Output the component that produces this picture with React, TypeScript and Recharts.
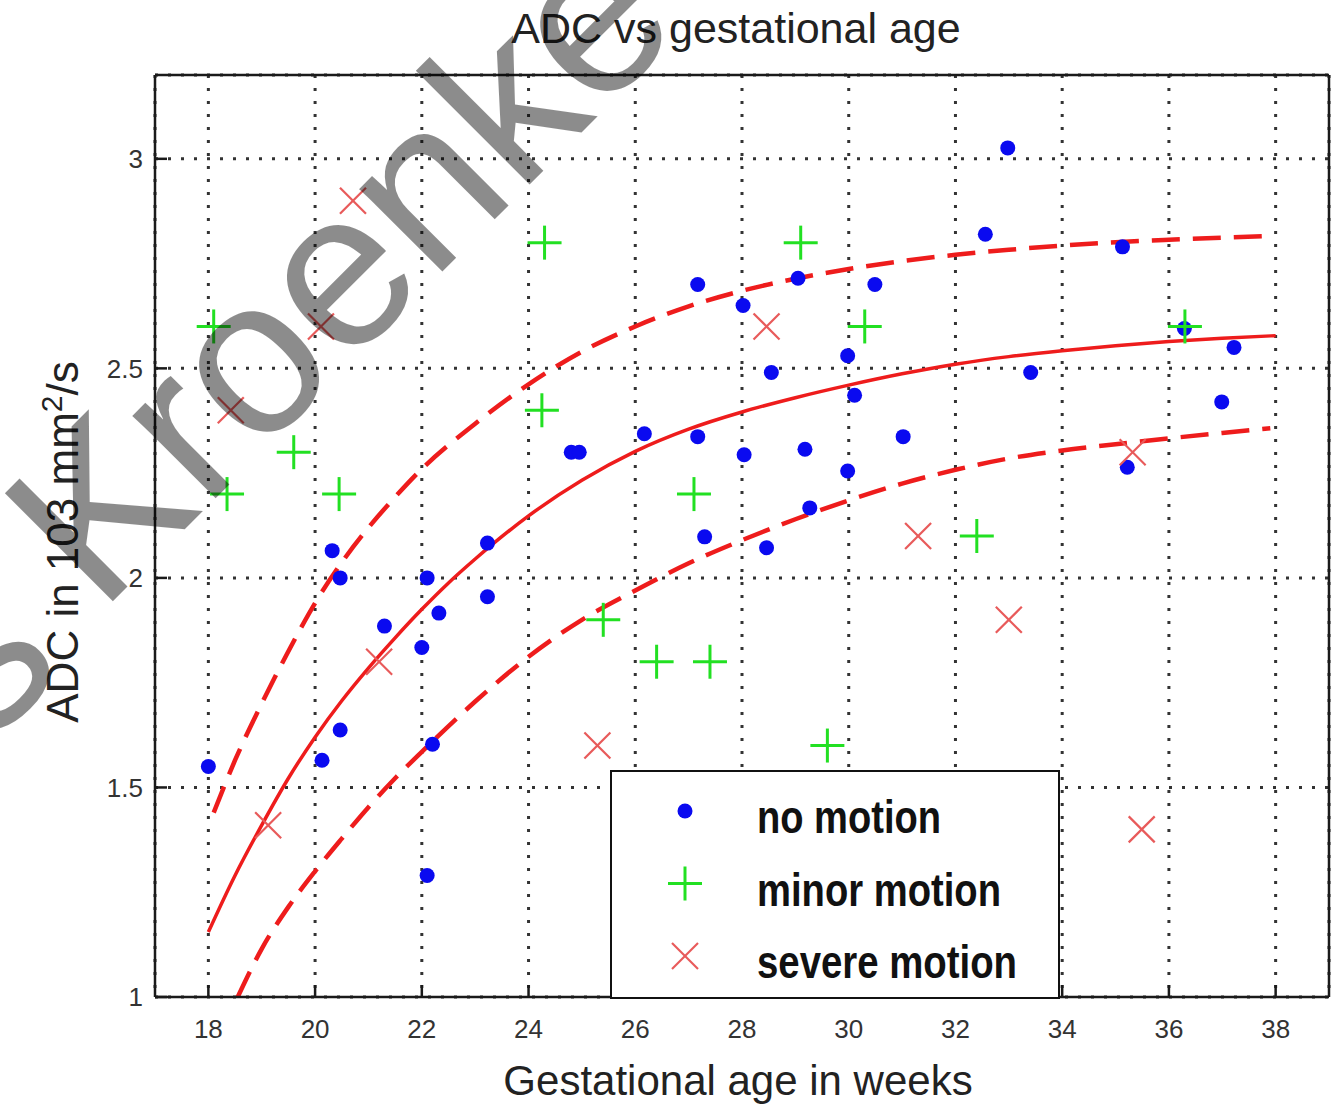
import React from "react";
import {
  ComposedChart,
  Scatter,
  Line,
  XAxis,
  YAxis,
  CartesianGrid,
  Legend,
} from "recharts";

// readings taken off the figure (weeks, ADC)
const noMotion = [
  [18.0, 1.55], [20.13, 1.565], [20.32, 2.065], [20.47, 2.0], [20.47, 1.637],
  [21.3, 1.885], [22.0, 1.834], [22.1, 2.0], [22.32, 1.916], [22.2, 1.603],
  [22.1, 1.29], [23.23, 2.083], [23.23, 1.955], [24.8, 2.3], [24.95, 2.3],
  [26.17, 2.344], [27.17, 2.337], [27.17, 2.7], [27.3, 2.098], [28.02, 2.65],
  [28.04, 2.294], [28.46, 2.072], [28.55, 2.49], [29.05, 2.715], [29.18, 2.307],
  [29.27, 2.167], [29.98, 2.53], [29.98, 2.255], [30.11, 2.436], [30.49, 2.7],
  [31.02, 2.337], [32.56, 2.82], [32.98, 3.026], [33.41, 2.49], [35.13, 2.79],
  [35.22, 2.264], [36.29, 2.595], [36.99, 2.42], [37.22, 2.55],
];

const minorMotion = [
  [18.1, 2.6], [18.35, 2.2], [19.6, 2.3], [20.45, 2.2], [24.3, 2.8],
  [24.25, 2.4], [25.4, 1.9], [26.4, 1.8], [27.4, 1.8], [27.1, 2.2],
  [29.1, 2.8], [29.6, 1.6], [30.3, 2.6], [32.4, 2.1], [36.3, 2.6],
];

const severeMotion = [
  [18.42, 2.4], [19.12, 1.41], [20.11, 2.6], [20.71, 2.9], [21.2, 1.8],
  [25.29, 1.6], [28.46, 2.6], [31.3, 2.1], [33.0, 1.9], [35.32, 2.3],
  [35.49, 1.4],
];

const fitMean = [
  [18, 1.155], [18.5, 1.29], [19, 1.41], [19.5, 1.522], [20, 1.62],
  [20.5, 1.707], [21, 1.785], [21.5, 1.857], [22, 1.925], [22.5, 1.988],
  [23, 2.045], [24, 2.148], [25, 2.233], [26, 2.302], [27, 2.355],
  [28, 2.396], [29, 2.43], [30, 2.46], [31, 2.487], [32, 2.51],
  [33, 2.528], [34, 2.542], [35, 2.554], [36, 2.564], [37, 2.572], [38, 2.578],
];

const fitUpper = [
  [18.1, 1.44], [18.5, 1.565], [19, 1.7], [19.5, 1.825], [20, 1.94],
  [20.5, 2.037], [21, 2.12], [21.5, 2.193], [22, 2.26], [23, 2.368],
  [24, 2.462], [25, 2.54], [26, 2.6], [27, 2.648], [28, 2.685],
  [29, 2.714], [30, 2.737], [31, 2.756], [32, 2.771], [33, 2.783],
  [34, 2.793], [35, 2.801], [36, 2.807], [37, 2.812], [37.9, 2.816],
];

const fitLower = [
  [18.55, 1.0], [19, 1.115], [19.5, 1.215], [20, 1.3], [20.5, 1.378],
  [21, 1.453], [21.5, 1.522], [22, 1.585], [23, 1.705], [24, 1.812],
  [25, 1.9], [26, 1.97], [27, 2.035], [28, 2.09], [29, 2.14],
  [30, 2.185], [31, 2.225], [32, 2.258], [33, 2.285], [34, 2.304],
  [35, 2.319], [36, 2.333], [37, 2.346], [37.9, 2.357],
];

const xTicks = [18, 20, 22, 24, 26, 28, 30, 32, 34, 36, 38];
const yTicks = [1, 1.5, 2, 2.5, 3];
const legendNames = ["no motion", "minor motion", "severe motion"];

const toPts = (arr: number[][]) => arr.map(([x, y]) => ({ x, y }));

const BLUE = "#0a0af0";
const GREEN = "#22e022";
const RED = "#e85a5a";
const LINE_RED = "#ee1c1c";
const FRAME = { stroke: "#1a1a1a", strokeWidth: 2.5 };

const Dot = (p: any) => <circle cx={p.cx} cy={p.cy} r={7.5} fill={BLUE} />;
const Plus = (p: any) => (
  <g stroke={GREEN} strokeWidth={3}>
    <line x1={p.cx - 17} y1={p.cy} x2={p.cx + 17} y2={p.cy} />
    <line x1={p.cx} y1={p.cy - 17} x2={p.cx} y2={p.cy + 17} />
  </g>
);
const Cross = (p: any) => (
  <g stroke={RED} strokeWidth={2.2}>
    <line x1={p.cx - 13} y1={p.cy - 13} x2={p.cx + 13} y2={p.cy + 13} />
    <line x1={p.cx - 13} y1={p.cy + 13} x2={p.cx + 13} y2={p.cy - 13} />
  </g>
);

const legendLengths = [184, 244, 260];

const renderLegend = () => (
  <svg width={450} height={229} style={{ display: "block" }}>
    <rect x={1} y={1} width={448} height={227} fill="#fff" stroke="#111" strokeWidth={2} />
    {legendNames.map((name, i) => {
      const cy = 41 + i * 72.5;
      return (
        <g key={name}>
          {i === 0 && <Dot cx={75} cy={cy} />}
          {i === 1 && <Plus cx={75} cy={cy} />}
          {i === 2 && <Cross cx={75} cy={cy} />}
          <text
            x={147}
            y={cy + 22}
            fontFamily="'Liberation Sans', Arial, sans-serif"
            fontWeight="bold"
            fontSize={46}
            fill="#111"
            textLength={legendLengths[i]}
            lengthAdjust="spacingAndGlyphs"
          >
            {name}
          </text>
        </g>
      );
    })}
  </svg>
);

const font = "'Liberation Sans', Arial, Helvetica, sans-serif";
const tickStyle = { fill: "#333", fontSize: 26, fontFamily: font };

export default function App() {
  return (
    <div style={{ position: "absolute", left: 0, top: 0, width: 1343, height: 1107, background: "#fff" }}>
      <ComposedChart
        width={1343}
        height={1107}
        margin={{ top: 74, right: 13, bottom: 50, left: 95 }}
      >
        <CartesianGrid stroke="#333" strokeWidth={3} strokeDasharray="3 10" />
        <XAxis
          dataKey="x"
          type="number"
          domain={[17, 39]}
          ticks={xTicks}
          allowDataOverflow
          height={60}
          tickSize={-12}
          tickMargin={35}
          tick={tickStyle}
          axisLine={FRAME}
          tickLine={FRAME}
        />
        <XAxis
          xAxisId="top"
          orientation="top"
          dataKey="x"
          type="number"
          domain={[17, 39]}
          ticks={xTicks}
          allowDataOverflow
          height={1}
          tickSize={-12}
          tick={false}
          axisLine={FRAME}
          tickLine={FRAME}
        />
        <YAxis
          type="number"
          domain={[1, 3.2]}
          ticks={yTicks}
          allowDataOverflow
          width={60}
          tickSize={-12}
          tickMargin={24}
          tick={tickStyle}
          axisLine={FRAME}
          tickLine={FRAME}
        />
        <YAxis
          yAxisId="right"
          orientation="right"
          type="number"
          domain={[1, 3.2]}
          ticks={yTicks}
          allowDataOverflow
          width={1}
          tickSize={-12}
          tick={false}
          axisLine={FRAME}
          tickLine={FRAME}
        />
        <Line data={toPts(fitUpper)} dataKey="y" type="monotone" stroke={LINE_RED} strokeWidth={4.5} strokeDasharray="28 13" dot={false} activeDot={false} isAnimationActive={false} />
        <Line data={toPts(fitMean)} dataKey="y" type="monotone" stroke={LINE_RED} strokeWidth={3.5} dot={false} activeDot={false} isAnimationActive={false} />
        <Line data={toPts(fitLower)} dataKey="y" type="monotone" stroke={LINE_RED} strokeWidth={4.5} strokeDasharray="28 13" dot={false} activeDot={false} isAnimationActive={false} />
        <Scatter name="no motion" data={toPts(noMotion)} dataKey="y" shape={Dot} isAnimationActive={false} />
        <Scatter name="minor motion" data={toPts(minorMotion)} dataKey="y" shape={Plus} isAnimationActive={false} />
        <Scatter name="severe motion" data={toPts(severeMotion)} dataKey="y" shape={Cross} isAnimationActive={false} />
        <Legend
          layout="vertical"
          align="center"
          verticalAlign="middle"
          content={renderLegend}
          wrapperStyle={{ left: 610, top: 770, width: 450, height: 229 }}
        />
      </ComposedChart>
      <svg
        width={1343}
        height={1107}
        style={{ position: "absolute", left: 0, top: 0, pointerEvents: "none" }}
      >
        <text x={736} y={43} textAnchor="middle" fontFamily={font} fontSize={43} fill="#222">
          ADC vs gestational age
        </text>
        <text x={738} y={1095} textAnchor="middle" fontFamily={font} fontSize={42} fill="#222">
          Gestational age in weeks
        </text>
        <text
          x={78}
          y={542}
          textAnchor="middle"
          fontFamily={font}
          fontSize={44}
          fill="#222"
          transform="rotate(-90 78 542)"
        >
          ADC in 103 mm<tspan dy={-16} fontSize={30}>2</tspan>
          <tspan dy={16}>/s</tspan>
        </text>
        <g fontFamily={font} fontSize={222} fill="#000" fillOpacity={0.45}>
          <text x={68} y={668} textAnchor="end" transform="rotate(-45 68 668)">s</text>
          <text x={100} y={614} transform="rotate(-45 100 614)">Kroenke</text>
        </g>
      </svg>
    </div>
  );
}
